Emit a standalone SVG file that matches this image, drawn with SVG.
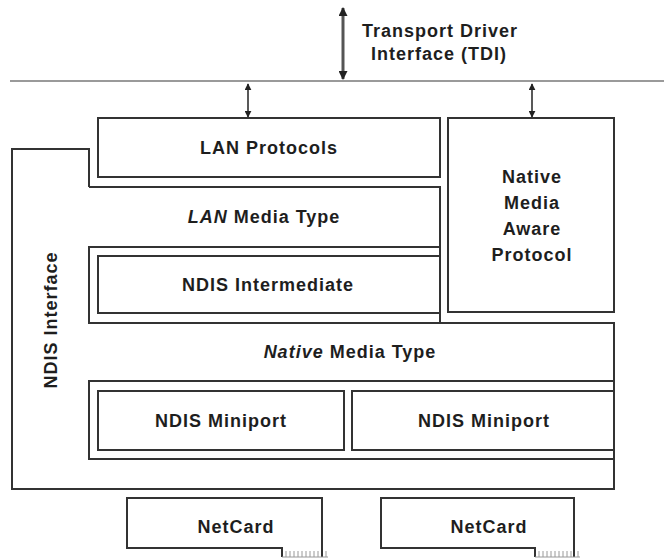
<svg xmlns="http://www.w3.org/2000/svg" width="664" height="558" viewBox="0 0 664 558">
  <style>
    .box { fill: none; stroke: #333; stroke-width: 2; }
    .lbl { font-family: "Liberation Sans", Arial, sans-serif; font-size: 18px; font-weight: bold; fill: #1e1e1e; text-anchor: middle; letter-spacing: 1px; }
    .conn { stroke: #222; stroke-width: 1.5; fill: none; }
    .teeth { stroke: #9a9a9a; stroke-width: 1; fill: none; }
  </style>
  <defs>
    <marker id="head" viewBox="0 0 10 10" refX="9" refY="5" markerWidth="7" markerHeight="7" orient="auto-start-reverse" markerUnits="userSpaceOnUse">
      <path d="M0,0 L10,5 L0,10 z" fill="#222"/>
    </marker>
    <marker id="headBig" viewBox="0 0 10 10" refX="9" refY="5" markerWidth="10" markerHeight="9" orient="auto-start-reverse" markerUnits="userSpaceOnUse">
      <path d="M0,0 L10,5 L0,10 z" fill="#222"/>
    </marker>
  </defs>

  <rect width="664" height="558" fill="#fff"/>

  <!-- TDI boundary line -->
  <g id="tdi">
    <line x1="10" y1="81" x2="664" y2="81" stroke="#9a9a9a" stroke-width="2"/>
    <text class="lbl" x="440" y="37">Transport Driver</text>
    <text class="lbl" x="439" y="60">Interface (TDI)</text>
  </g>

  <!-- connectors -->
  <g id="connectors">
    <line x1="343" y1="8" x2="343" y2="79" stroke="#555" stroke-width="3" marker-start="url(#headBig)" marker-end="url(#headBig)"/>
    <line class="conn" x1="248" y1="84" x2="248" y2="117" marker-start="url(#head)" marker-end="url(#head)"/>
    <line class="conn" x1="532" y1="84" x2="532" y2="117" marker-start="url(#head)" marker-end="url(#head)"/>
  </g>

  <!-- NDIS interface wrapper -->
  <g id="ndis-interface">
    <path class="box" d="M89,187 V149 H12 V489 H614 V459"/>
    <text class="lbl" transform="translate(57,320) rotate(-90)">NDIS Interface</text>
  </g>

  <g id="lan-protocols">
    <rect class="box" x="98" y="118" width="342" height="59"/>
    <text class="lbl" x="269" y="154">LAN Protocols</text>
  </g>

  <g id="native-media-aware">
    <rect class="box" x="448" y="118" width="166" height="194"/>
    <text class="lbl" x="532" y="183">Native</text>
    <text class="lbl" x="532" y="209">Media</text>
    <text class="lbl" x="532" y="235">Aware</text>
    <text class="lbl" x="532" y="261">Protocol</text>
  </g>

  <g id="lan-media-type">
    <path class="box" d="M89,187 H440 V247"/>
    <text class="lbl" x="264" y="223"><tspan font-style="italic">LAN</tspan> Media Type</text>
  </g>

  <g id="intermediate-layer">
    <rect class="box" x="89" y="247" width="351" height="76"/>
  </g>

  <g id="ndis-intermediate">
    <rect class="box" x="98" y="256" width="342" height="57"/>
    <text class="lbl" x="268" y="291">NDIS Intermediate</text>
  </g>

  <g id="native-media-type">
    <path class="box" d="M89,323 H614 V381"/>
    <text class="lbl" x="350" y="358"><tspan font-style="italic">Native</tspan> Media Type</text>
  </g>

  <g id="miniport-layer">
    <rect class="box" x="89" y="381" width="525" height="78"/>
  </g>

  <g id="miniport-1">
    <rect class="box" x="98" y="391" width="246" height="59"/>
    <text class="lbl" x="221" y="427">NDIS Miniport</text>
  </g>

  <g id="miniport-2">
    <rect class="box" x="352" y="391" width="262" height="59"/>
    <text class="lbl" x="484" y="427">NDIS Miniport</text>
  </g>

  <!-- network cards with edge-connector teeth -->
  <g id="netcard-1">
    <path class="box" d="M282,557 V548 H127 V498 H322 V557"/>
    <path class="teeth" d="M282,557 H328 M286,551 V557 M290,551 V557 M294,551 V557 M298,551 V557 M302,551 V557 M306,551 V557 M310,551 V557 M314,551 V557 M318,551 V557 M326,551 V557"/>
    <text class="lbl" x="236" y="533">NetCard</text>
  </g>

  <g id="netcard-2">
    <path class="box" d="M535,557 V548 H381 V498 H574 V557"/>
    <path class="teeth" d="M535,557 H580 M539,551 V557 M543,551 V557 M547,551 V557 M551,551 V557 M555,551 V557 M559,551 V557 M563,551 V557 M567,551 V557 M571,551 V557 M578,551 V557"/>
    <text class="lbl" x="489" y="533">NetCard</text>
  </g>
</svg>
